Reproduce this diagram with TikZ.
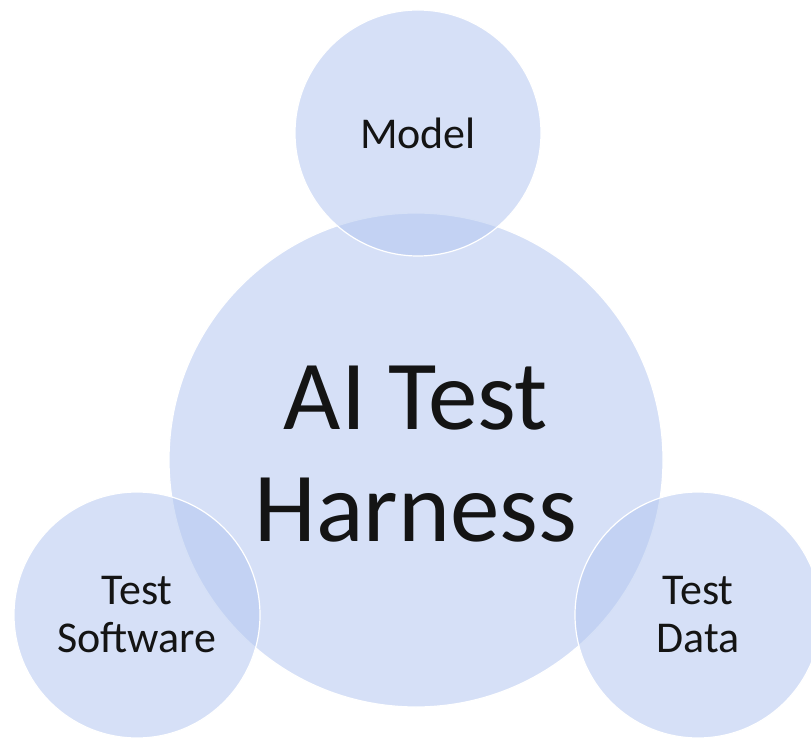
\documentclass[tikz,border=0pt]{standalone}
\usepackage{fontspec}
\setmainfont{Carlito}
\usepackage[dvipsnames]{xcolor}
\definecolor{bubble}{RGB}{180,199,240}
\definecolor{ink}{RGB}{20,20,20}

\begin{document}
\begin{tikzpicture}[x=1pt,y=-1pt,thick,
  bubble node/.style={circle,draw=white,line width=1.2pt,fill=bubble,fill opacity=0.55,text opacity=1,text=ink,align=center,inner sep=0pt},
  hub node/.style={bubble node,minimum size=494pt,text depth=12pt,font=\fontsize{99}{112}\selectfont},
  main node/.style={bubble node,minimum size=246pt,font=\fontsize{44}{48}\selectfont}]

            \useasboundingbox (0,0) rectangle (811,738);

            \node[hub node] (1) at (416,460) {AI Test\\Harness};
            \node[main node] (2) at (418,133) {Model};
            \node[main node] (3) at (137,615) {Test\\Software};
            \node[main node] (4) at (698,615) {Test\\Data};

            ;
        \end{tikzpicture}
\end{document}
